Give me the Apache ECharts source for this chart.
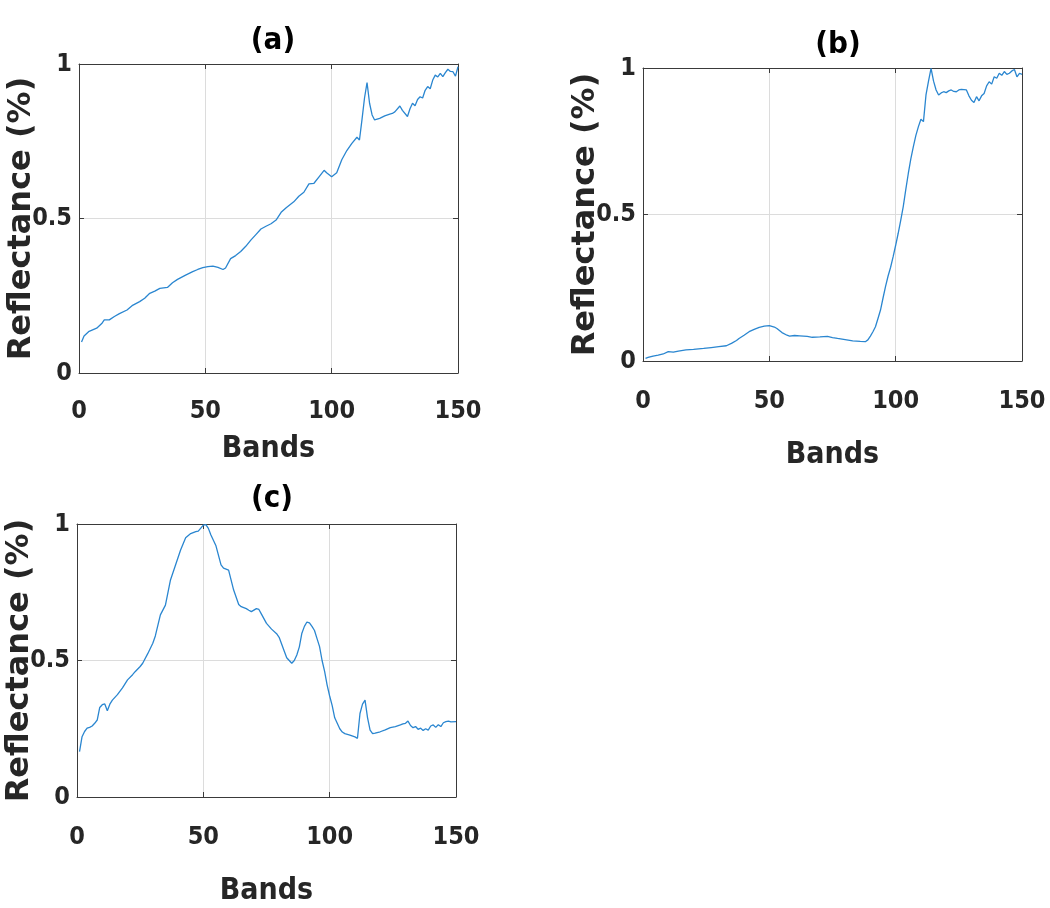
<!DOCTYPE html>
<html>
<head>
<meta charset="utf-8">
<script src="https://cdn.jsdelivr.net/npm/echarts@6/dist/echarts.min.js"></script>
<style>html,body{margin:0;padding:0;background:#fff}#c{width:1050px;height:908px}</style>
</head>
<body>
<div id="c"></div>
<script>
// ---------- data ----------
var panelTitles = ['(a)', '(b)', '(c)'];
var xAxisName = 'Bands';
var yAxisName = 'Reflectance (%)';

var aBands  = [1,2,4,7,9,10,12,14,16,19,21,24,26,28,30,32,35,37,39,42,45,47,49,51,53,55,57,58,60,62,64,66,68,70,72,74,76,78,80,82,85,87,89,91,93,95,97,98,100,102,104,106,108,110,111,112,113,114,115,116,117,119,121,123,124,125,127,128,130,131,132,133,134,135,136,137,138,139,140,141,142,143,144,145,146,147,148,149,150];
var aValues = [0.10,0.12,0.135,0.145,0.16,0.172,0.172,0.183,0.192,0.204,0.218,0.231,0.242,0.258,0.265,0.274,0.277,0.292,0.303,0.316,0.328,0.335,0.341,0.344,0.346,0.342,0.335,0.34,0.37,0.38,0.393,0.41,0.43,0.448,0.466,0.475,0.483,0.495,0.52,0.535,0.554,0.572,0.585,0.612,0.614,0.635,0.656,0.648,0.635,0.648,0.69,0.72,0.743,0.763,0.754,0.82,0.89,0.94,0.873,0.835,0.819,0.824,0.832,0.838,0.84,0.845,0.864,0.85,0.83,0.855,0.873,0.865,0.885,0.894,0.89,0.915,0.927,0.92,0.948,0.964,0.958,0.97,0.959,0.972,0.983,0.976,0.975,0.961,0.991];

var bBands  = [1,2,4,6,8,10,12,14,17,20,24,27,30,33,35,37,38,40,42,44,46,48,50,52,53,55,57,58,60,62,65,67,70,73,75,77,80,83,86,88,89,90,91,92,93,94,95,96,97,98,99,100,101,102,103,104,105,106,107,108,109,110,111,112,113,114,115,116,117,118,119,120,121,122,123,124,125,126,127,128,129,130,131,132,133,134,135,136,137,138,139,140,141,142,143,144,145,146,147,148,149,150];
var bValues = [0.009,0.012,0.017,0.02,0.024,0.032,0.030,0.034,0.038,0.04,0.043,0.046,0.049,0.052,0.06,0.07,0.077,0.088,0.10,0.108,0.115,0.119,0.121,0.116,0.111,0.097,0.088,0.085,0.087,0.086,0.084,0.081,0.082,0.084,0.08,0.077,0.073,0.069,0.067,0.066,0.072,0.085,0.1,0.117,0.145,0.174,0.215,0.255,0.29,0.32,0.356,0.395,0.436,0.48,0.527,0.585,0.64,0.69,0.732,0.77,0.8,0.825,0.817,0.908,0.955,0.999,0.955,0.925,0.908,0.915,0.919,0.916,0.922,0.925,0.92,0.919,0.925,0.927,0.926,0.925,0.905,0.89,0.882,0.902,0.888,0.905,0.913,0.939,0.953,0.945,0.97,0.965,0.982,0.975,0.988,0.978,0.982,0.99,0.995,0.97,0.982,0.978];

var cBands  = [1,2,3,4,5,6,7,8,9,10,11,12,13,14,16,18,20,22,23,25,26,28,30,31,33,35,37,39,41,43,45,47,48,50,51,52,53,55,57,58,60,62,64,65,67,68,69,71,72,73,75,77,79,80,82,83,85,86,87,88,89,90,91,92,93,94,95,96,97,98,99,100,101,102,103,104,105,106,108,110,111,112,113,114,115,116,117,118,120,122,124,126,128,129,130,131,132,133,134,135,136,137,138,139,140,141,142,143,144,145,146,147,148,150];
var cValues = [0.166,0.221,0.24,0.252,0.255,0.26,0.27,0.282,0.328,0.338,0.341,0.316,0.34,0.355,0.375,0.40,0.429,0.448,0.459,0.478,0.49,0.525,0.563,0.59,0.667,0.703,0.795,0.85,0.905,0.95,0.965,0.972,0.974,0.996,0.998,0.984,0.96,0.92,0.85,0.838,0.831,0.758,0.705,0.697,0.69,0.684,0.679,0.69,0.687,0.67,0.636,0.615,0.598,0.585,0.535,0.51,0.49,0.5,0.52,0.55,0.6,0.625,0.641,0.638,0.625,0.61,0.58,0.551,0.5,0.46,0.41,0.37,0.335,0.29,0.27,0.25,0.238,0.232,0.227,0.22,0.215,0.306,0.34,0.355,0.29,0.245,0.232,0.234,0.239,0.246,0.254,0.258,0.264,0.268,0.27,0.278,0.262,0.254,0.258,0.248,0.252,0.244,0.25,0.245,0.26,0.264,0.255,0.265,0.258,0.272,0.276,0.278,0.275,0.276];

// ---------- chart ----------
function zip(xs, ys) { return xs.map(function (x, i) { return [x, ys[i]]; }); }
var series = [zip(aBands, aValues), zip(bBands, bValues), zip(cBands, cValues)];

var narrow = '"Liberation Sans Narrow", "DejaVu Sans Condensed", "Arial Narrow", sans-serif';
var wide = '"DejaVu Sans", Verdana, sans-serif';
var ink = '#262626';
var frame = '#3a3a3a';

var grids = [
  {left: 79, top: 64, width: 379, height: 309},
  {left: 643, top: 68, width: 379, height: 293},
  {left: 77, top: 524, width: 379, height: 273}
];
var titlePos = [[268, 20], [833, 24], [267, 478]];
var xNameGap = [61, 79, 79];
var xLabelMargin = [26, 28, 28];

var xAxes = [], yAxes = [];
grids.forEach(function (g, i) {
  xAxes.push({type: 'value', gridIndex: i, min: 0, max: 150, interval: 50, position: 'bottom',
    name: xAxisName, nameLocation: 'middle', nameGap: xNameGap[i], nameMoveOverlap: false,
    nameTextStyle: {fontFamily: narrow, fontWeight: 'bold', fontSize: 30, color: ink},
    axisLine: {show: true, onZero: false, lineStyle: {color: frame, width: 1}},
    axisTick: {show: true, inside: true, length: 5, lineStyle: {color: frame}},
    axisLabel: {margin: xLabelMargin[i], fontFamily: narrow, fontWeight: 'bold', fontSize: 25, color: ink},
    splitLine: {show: true, lineStyle: {color: '#dcdcdc', width: 1}}});
  yAxes.push({type: 'value', gridIndex: i, min: 0, max: 1, interval: 0.5, position: 'left',
    name: yAxisName, nameLocation: 'middle', nameGap: 41, nameRotate: 90, nameMoveOverlap: false,
    nameTextStyle: {fontFamily: wide, fontWeight: 'bold', fontSize: 32, color: ink},
    axisLine: {show: true, lineStyle: {color: frame, width: 1}},
    axisTick: {show: true, inside: true, length: 5, lineStyle: {color: frame}},
    axisLabel: {margin: 7, fontFamily: narrow, fontWeight: 'bold', fontSize: 25, color: ink},
    splitLine: {show: true, lineStyle: {color: '#dcdcdc', width: 1}}});
});
// mirrored top / right axes (ticks only), like a boxed plot
grids.forEach(function (g, i) {
  xAxes.push({type: 'value', gridIndex: i, min: 0, max: 150, interval: 50, position: 'top',
    axisLine: {show: true, onZero: false, lineStyle: {color: frame, width: 1}},
    axisTick: {show: true, inside: true, length: 5, lineStyle: {color: frame}},
    axisLabel: {show: false}, splitLine: {show: false}});
  yAxes.push({type: 'value', gridIndex: i, min: 0, max: 1, interval: 0.5, position: 'right',
    axisLine: {show: true, onZero: false, lineStyle: {color: frame, width: 1}},
    axisTick: {show: true, inside: true, length: 5, lineStyle: {color: frame}},
    axisLabel: {show: false}, splitLine: {show: false}});
});

var option = {
  animation: false,
  backgroundColor: '#fff',
  title: panelTitles.map(function (t, i) {
    return {text: t, left: titlePos[i][0], top: titlePos[i][1], textAlign: 'center',
      textStyle: {fontFamily: narrow, fontWeight: 'bold', fontSize: 31, color: '#000'}};
  }),
  grid: grids.map(function (g) {
    return {left: g.left, top: g.top, width: g.width, height: g.height, show: false,
      containLabel: false, outerBoundsMode: 'none'};
  }),
  xAxis: xAxes,
  yAxis: yAxes,
  series: series.map(function (d, i) {
    return {type: 'line', xAxisIndex: i, yAxisIndex: i, data: d, showSymbol: false,
      smooth: false, lineStyle: {color: '#2a86d0', width: 1.3}, z: 3};
  })
};

var chart = echarts.init(document.getElementById('c'), null, {renderer: 'canvas'});
chart.setOption(option);
</script>
</body>
</html>
